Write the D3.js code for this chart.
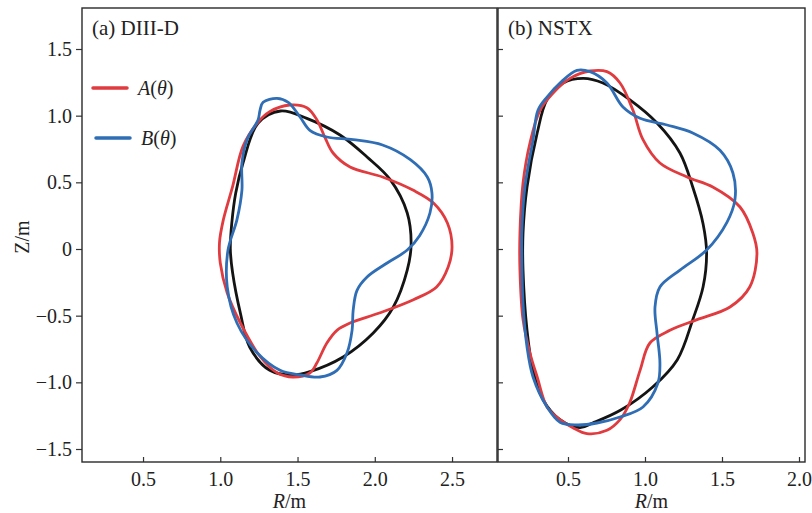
<!DOCTYPE html>
<html>
<head>
<meta charset="utf-8">
<script src="https://cdn.jsdelivr.net/npm/d3@7"></script>
<style>
  body { margin: 0; background: #fff; }
  text { font-family: "Liberation Serif", "Times New Roman", serif; fill: #222; }
</style>
</head>
<body>
<svg id="chart" width="812" height="513"></svg>
<script>
// Axis ticks
const yTicks = [-1.5, -1.0, -0.5, 0, 0.5, 1.0, 1.5];
const xTicksDIIID = [0.5, 1.0, 1.5, 2.0, 2.5];
const xTicksNSTX = [0.5, 1.0, 1.5, 2.0];
const panelTitles = ["(a) DIII-D", "(b) NSTX"];
const seriesNames = ["A", "B"];

// DIII-D plasma boundaries, (R, Z) in metres
const diiidRef = [[1.39,1.035],[1.56,0.98],[1.775,0.855],[1.95,0.69],[2.1,0.52],[2.21,0.27],[2.235,0.03],[2.21,-0.158],[2.12,-0.435],[1.99,-0.63],[1.795,-0.81],[1.58,-0.92],[1.47,-0.945],[1.32,-0.91],[1.19,-0.735],[1.13,-0.48],[1.08,-0.18],[1.065,0.0],[1.075,0.2],[1.1,0.42],[1.147,0.645],[1.245,0.945]];
const diiidA = [[1.45,1.08],[1.56,1.06],[1.625,0.97],[1.68,0.83],[1.73,0.72],[1.84,0.615],[2.05,0.54],[2.25,0.44],[2.38,0.345],[2.47,0.195],[2.5,0.015],[2.475,-0.135],[2.40,-0.285],[2.25,-0.38],[2.03,-0.48],[1.84,-0.555],[1.755,-0.61],[1.69,-0.705],[1.625,-0.855],[1.58,-0.93],[1.47,-0.96],[1.37,-0.93],[1.26,-0.81],[1.13,-0.555],[1.045,-0.33],[1.0,-0.105],[0.995,0.05],[1.02,0.22],[1.08,0.47],[1.147,0.77],[1.24,0.945],[1.32,1.03]];
const diiidB = [[1.367,1.13],[1.44,1.10],[1.516,0.99],[1.58,0.89],[1.69,0.84],[1.86,0.82],[2.05,0.78],[2.23,0.67],[2.34,0.54],[2.37,0.42],[2.357,0.27],[2.29,0.1],[2.21,-0.008],[2.08,-0.105],[1.95,-0.21],[1.885,-0.31],[1.86,-0.46],[1.853,-0.61],[1.82,-0.78],[1.755,-0.91],[1.645,-0.96],[1.516,-0.945],[1.387,-0.91],[1.24,-0.78],[1.108,-0.555],[1.045,-0.285],[1.05,-0.008],[1.108,0.22],[1.14,0.44],[1.14,0.645],[1.173,0.82],[1.245,0.97],[1.257,1.04],[1.277,1.10]];

// NSTX plasma boundaries, (R, Z) in metres
const nstxRef = [[0.6,1.28],[0.727,1.245],[0.9,1.12],[1.078,0.945],[1.227,0.72],[1.31,0.465],[1.377,0.19],[1.40,-0.03],[1.377,-0.285],[1.31,-0.53],[1.21,-0.83],[1.05,-1.035],[0.84,-1.21],[0.66,-1.305],[0.578,-1.34],[0.448,-1.28],[0.338,-1.13],[0.273,-0.91],[0.234,-0.61],[0.208,-0.16],[0.208,0.12],[0.234,0.465],[0.3,0.87],[0.364,1.12],[0.468,1.245]];
const nstxA = [[0.643,1.335],[0.753,1.33],[0.838,1.245],[0.922,1.04],[0.987,0.82],[1.097,0.645],[1.273,0.54],[1.44,0.465],[1.617,0.315],[1.70,0.12],[1.727,-0.03],[1.68,-0.285],[1.552,-0.435],[1.338,-0.53],[1.162,-0.61],[1.032,-0.705],[0.968,-0.91],[0.90,-1.155],[0.838,-1.28],[0.753,-1.36],[0.623,-1.385],[0.532,-1.34],[0.448,-1.28],[0.364,-1.185],[0.30,-0.96],[0.253,-0.78],[0.208,-0.53],[0.188,-0.16],[0.188,0.12],[0.208,0.495],[0.253,0.795],[0.318,1.04],[0.403,1.17],[0.513,1.28]];
const nstxB = [[0.558,1.34],[0.643,1.33],[0.753,1.245],[0.857,1.065],[0.968,0.98],[1.143,0.93],[1.31,0.87],[1.487,0.74],[1.571,0.57],[1.584,0.37],[1.532,0.2],[1.40,-0.008],[1.227,-0.158],[1.097,-0.285],[1.065,-0.435],[1.078,-0.63],[1.097,-0.855],[1.084,-1.005],[0.987,-1.185],[0.838,-1.26],[0.688,-1.305],[0.558,-1.32],[0.448,-1.30],[0.364,-1.185],[0.273,-0.96],[0.234,-0.735],[0.208,-0.405],[0.2,-0.03],[0.2,0.12],[0.22,0.465],[0.273,0.82],[0.305,1.04],[0.364,1.14],[0.448,1.245]];

const colors = { ref: "#141414", A: "#e03b3f", B: "#2f6db5" };

const svg = d3.select("#chart");
const plotTop = 8, plotBottom = 462;
const y = d3.scaleLinear().domain([-1.5975, 1.8075]).range([plotBottom, plotTop]);

const panels = [
  { title: panelTitles[0], x: d3.scaleLinear().domain([0.105, 2.791]).range([82, 497]),
    ticks: xTicksDIIID, curves: [diiidRef, diiidA, diiidB], yLabels: true },
  { title: panelTitles[1], x: d3.scaleLinear().domain([0.0455, 2.039]).range([498, 805]),
    ticks: xTicksNSTX, curves: [nstxRef, nstxA, nstxB], yLabels: false }
];

const fmtY = v => v === 0 ? "0" : d3.format(".1f")(v);

panels.forEach((p, i) => {
  const [x0, x1] = p.x.range();
  const g = svg.append("g");

  svg.append("clipPath").attr("id", "clip" + i)
    .append("rect").attr("x", x0).attr("y", plotTop).attr("width", x1 - x0).attr("height", plotBottom - plotTop);

  // boundary curves
  const line = d3.line().x(d => p.x(d[0])).y(d => y(d[1])).curve(d3.curveCatmullRomClosed.alpha(0.5));
  const cg = g.append("g").attr("clip-path", `url(#clip${i})`);
  [colors.ref, colors.A, colors.B].forEach((c, k) => {
    cg.append("path").datum(p.curves[k]).attr("d", line)
      .attr("fill", "none").attr("stroke", c).attr("stroke-width", 2.8)
      .attr("stroke-linejoin", "round");
  });

  // bottom axis, ticks pointing inward
  const xa = g.append("g").attr("transform", `translate(0,${plotBottom})`)
    .call(d3.axisBottom(p.x).tickValues(p.ticks).tickSize(-5).tickPadding(10).tickFormat(d3.format(".1f")));
  xa.select(".domain").remove();
  xa.selectAll("line").attr("stroke", "#333").attr("stroke-width", 1.2);
  xa.selectAll("text").attr("font-size", 20).attr("fill", "#222")
    .attr("font-family", "'Liberation Serif', serif");

  // left axis
  const ya = g.append("g").attr("transform", `translate(${x0},0)`);
  if (p.yLabels) {
    ya.call(d3.axisLeft(y).tickValues(yTicks).tickSize(6).tickPadding(4).tickFormat(fmtY));
    ya.selectAll("text").attr("font-size", 20).attr("fill", "#222")
      .attr("font-family", "'Liberation Serif', serif");
  } else {
    ya.call(d3.axisLeft(y).tickValues(yTicks).tickSize(-5).tickFormat(""));
  }
  ya.select(".domain").remove();
  ya.selectAll("line").attr("stroke", "#333").attr("stroke-width", 1.2);

  // frame
  g.append("rect").attr("x", x0).attr("y", plotTop).attr("width", x1 - x0).attr("height", plotBottom - plotTop)
    .attr("fill", "none").attr("stroke", "#2a2a2a").attr("stroke-width", 1.4);

  g.append("text").attr("x", x0 + 10).attr("y", 35).attr("font-size", 21).text(p.title);

  const lbl = g.append("text").attr("x", (x0 + x1) / 2).attr("y", 508)
    .attr("text-anchor", "middle").attr("font-size", 20);
  lbl.append("tspan").attr("font-style", "italic").text("R");
  lbl.append("tspan").text("/m");
});

// vertical axis title
svg.append("text").attr("transform", "translate(29,237) rotate(-90)")
  .attr("text-anchor", "middle").attr("font-size", 20).text("Z/m");

// legend
const legend = svg.append("g");
[[colors.A, 93, 88, seriesNames[0]], [colors.B, 96, 138, seriesNames[1]]].forEach(([c, lx, ly, name]) => {
  legend.append("line").attr("x1", lx).attr("x2", lx + 34).attr("y1", ly).attr("y2", ly)
    .attr("stroke", c).attr("stroke-width", 3.5).attr("stroke-linecap", "round");
  const t = legend.append("text").attr("x", lx + 45).attr("y", ly + 7).attr("font-size", 20);
  t.append("tspan").attr("font-style", "italic").text(name);
  t.append("tspan").text("(");
  t.append("tspan").attr("font-style", "italic").text("θ");
  t.append("tspan").text(")");
});
</script>
</body>
</html>
